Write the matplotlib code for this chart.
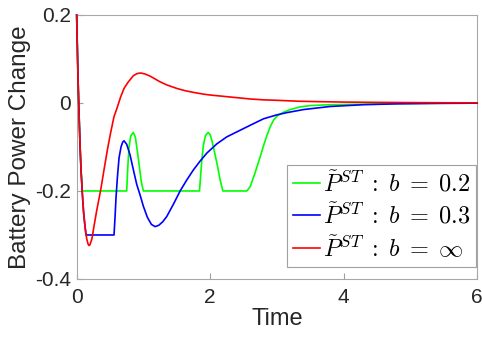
import numpy as np
import matplotlib
matplotlib.use('Agg')
from matplotlib import pyplot as plt

plt.rcParams['font.family'] = ['Liberation Sans', 'DejaVu Sans']
plt.rcParams['mathtext.fontset'] = 'cm'
plt.rcParams['axes.unicode_minus'] = False

# values
t_green = [0, 0.01, 0.02, 0.035, 0.05, 0.065, 0.085,
           0.75, 0.765, 0.785, 0.81, 0.85, 0.88, 0.91, 0.94, 0.97, 1.0,
           1.84, 1.86, 1.875, 1.9, 1.93, 1.97, 2.0, 2.03, 2.07, 2.1, 2.15, 2.19,
           2.55, 2.6, 2.67, 2.75, 2.8, 2.85, 2.9, 2.95, 3.0, 3.1, 3.2, 3.35, 3.5,
           3.8, 4.2, 4.8, 5.4, 6]
p_green = [0.2, 0.13, 0.06, -0.02, -0.092, -0.15, -0.2,
           -0.2, -0.15, -0.1, -0.075, -0.067, -0.078, -0.11, -0.145, -0.18, -0.2,
           -0.2, -0.16, -0.13, -0.095, -0.074, -0.067, -0.072, -0.088, -0.115, -0.136,
           -0.175, -0.2,
           -0.2, -0.19, -0.16, -0.122, -0.097, -0.074, -0.054, -0.039, -0.03, -0.021,
           -0.015, -0.009, -0.006, -0.004, -0.003, -0.0015, -0.0007, -0.0003]

t_blue = [0, 0.01, 0.02, 0.035, 0.05, 0.065, 0.085, 0.105, 0.125, 0.14,
          0.56, 0.575, 0.59, 0.61, 0.635, 0.665, 0.69, 0.71, 0.75, 0.8, 0.85, 0.9,
          0.95, 1.0, 1.06, 1.12, 1.175, 1.23, 1.29, 1.35, 1.45, 1.55, 1.65, 1.75,
          1.85, 1.95, 2.1, 2.25, 2.45, 2.65, 2.8, 3.0, 3.15, 3.4, 3.8, 4.3, 4.8,
          5.4, 6]
p_blue = [0.2, 0.13, 0.06, -0.02, -0.092, -0.15, -0.205, -0.25, -0.28, -0.3,
          -0.3, -0.26, -0.215, -0.17, -0.125, -0.1, -0.089, -0.086, -0.094, -0.118,
          -0.152, -0.185, -0.209, -0.235, -0.26, -0.276, -0.281, -0.278, -0.27,
          -0.258, -0.23, -0.2, -0.175, -0.152, -0.132, -0.114, -0.093, -0.077,
          -0.062, -0.047, -0.036, -0.027, -0.022, -0.015, -0.008, -0.004, -0.002,
          -0.001, -0.0005]

t_red = [0, 0.01, 0.02, 0.035, 0.05, 0.065, 0.085, 0.105, 0.125, 0.15, 0.17,
         0.185, 0.2, 0.23, 0.26, 0.3, 0.36, 0.41, 0.46, 0.51, 0.56, 0.6, 0.66,
         0.71, 0.77, 0.85, 0.91, 0.96, 1.02, 1.1, 1.18, 1.25, 1.35, 1.5, 1.62,
         1.75, 1.9, 2.0, 2.2, 2.4, 2.6, 2.8, 3.0, 3.3, 3.6, 4.0, 4.5, 5.0, 5.5, 6]
p_red = [0.2, 0.13, 0.06, -0.02, -0.092, -0.15, -0.205, -0.25, -0.28, -0.308,
         -0.32, -0.324, -0.322, -0.308, -0.28, -0.245, -0.198, -0.152, -0.107,
         -0.067, -0.031, -0.014, 0.014, 0.033, 0.047, 0.062, 0.067, 0.068, 0.066,
         0.061, 0.054, 0.048, 0.041, 0.033, 0.028, 0.024, 0.02, 0.018, 0.015,
         0.012, 0.009, 0.007, 0.006, 0.004, 0.003, 0.002, 0.0013, 0.0008, 0.0004,
         0.0002]

labels = [r'$\tilde{P}^{ST}\;:\;b\;=\;0.2$', r'$\tilde{P}^{ST}\;:\;b\;=\;0.3$',
          r'$\tilde{P}^{ST}\;:\;b\;=\;\infty$']
xticks = [0, 2, 4, 6]
yticks = [-0.4, -0.2, 0, 0.2]
yticklabels = ['-0.4', '-0.2', '0', '0.2']

fig = plt.figure(figsize=(4.82, 3.39), dpi=100)
ax = fig.add_axes([0.159, 0.177, 0.831, 0.779])

ax.plot(t_green, p_green, color='#00ff00', lw=1.2, label=labels[0], zorder=3, clip_on=False)
ax.plot(t_blue, p_blue, color='#0000ff', lw=1.2, label=labels[1], zorder=3, clip_on=False)
ax.plot(t_red, p_red, color='#ff0000', lw=1.2, label=labels[2], zorder=3, clip_on=False)

ax.set_xlim(0, 6)
ax.set_ylim(-0.4, 0.2)
ax.set_xticks(xticks)
ax.set_xticklabels([str(v) for v in xticks])
ax.set_yticks(yticks)
ax.set_yticklabels(yticklabels)
ax.tick_params(direction='in', length=4, color='#a0a0a0', labelsize=15,
               labelcolor='#262626', width=0.8)
ax.tick_params(axis='x', pad=6.5)
ax.tick_params(axis='y', pad=4)
for s in ax.spines.values():
    s.set_color('#a8a8a8')
    s.set_linewidth(0.8)

ax.set_xlabel('Time', fontsize=17, color='#262626', labelpad=1)
ax.set_ylabel('Battery Power Change', fontsize=17.5, color='#262626', labelpad=3)

leg = ax.legend(loc='lower right', fontsize=17.5, fancybox=False, edgecolor='#a0a0a0',
                framealpha=1, handlelength=1.1, handletextpad=0.15, borderpad=0.22,
                labelspacing=0.25, borderaxespad=0,
                bbox_to_anchor=(476 / 482, 1 - 267 / 339), bbox_transform=fig.transFigure)
leg.get_frame().set_linewidth(0.8)
leg.set_zorder(5)

fig.savefig('out.png', dpi=100)
